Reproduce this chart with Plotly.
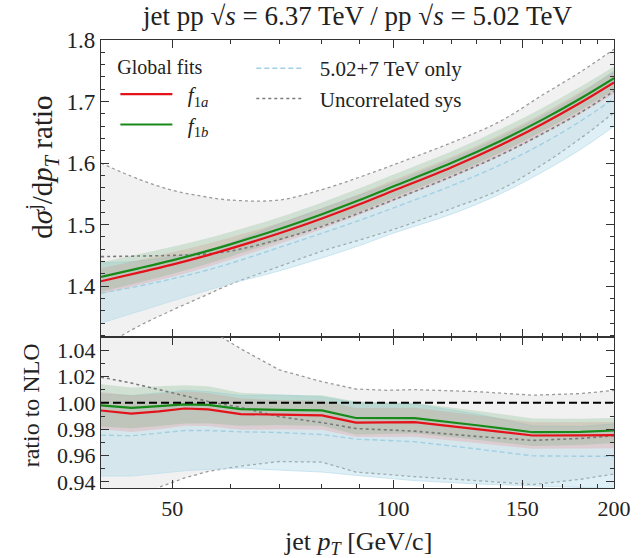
import plotly.graph_objects as go
from plotly.subplots import make_subplots

# ---------------- data ----------------
# upper panel: cross-section ratio
pt_top = [40, 45, 50, 55, 60, 70, 80, 90, 100, 120, 140, 160, 180, 200]
top_f1a = [1.408, 1.422, 1.435, 1.448, 1.461, 1.486, 1.510, 1.533, 1.555, 1.593, 1.629, 1.664, 1.698, 1.731]
top_f1a_hi = [1.429, 1.442, 1.455, 1.467, 1.479, 1.503, 1.527, 1.550, 1.572, 1.610, 1.646, 1.681, 1.716, 1.749]
top_f1a_lo = [1.387, 1.402, 1.415, 1.429, 1.443, 1.469, 1.493, 1.516, 1.538, 1.576, 1.612, 1.647, 1.680, 1.713]
top_f1b = [1.415, 1.429, 1.442, 1.455, 1.468, 1.493, 1.517, 1.540, 1.562, 1.600, 1.636, 1.671, 1.705, 1.738]
top_f1b_hi = [1.439, 1.452, 1.464, 1.476, 1.488, 1.512, 1.536, 1.559, 1.581, 1.619, 1.655, 1.690, 1.724, 1.757]
top_f1b_lo = [1.391, 1.406, 1.420, 1.434, 1.448, 1.474, 1.498, 1.521, 1.543, 1.581, 1.617, 1.652, 1.686, 1.719]
top_unc = [1.448, 1.449, 1.450, 1.452, 1.457, 1.476, 1.497, 1.519, 1.540, 1.578, 1.613, 1.648, 1.682, 1.717]
top_unc_hi = [1.600, 1.574, 1.556, 1.546, 1.540, 1.540, 1.557, 1.577, 1.597, 1.633, 1.668, 1.711, 1.748, 1.785]
top_unc_lo = [1.300, 1.335, 1.361, 1.383, 1.403, 1.432, 1.457, 1.475, 1.492, 1.526, 1.557, 1.598, 1.640, 1.682]
top_only = [1.389, 1.400, 1.412, 1.424, 1.437, 1.463, 1.486, 1.507, 1.527, 1.563, 1.597, 1.632, 1.668, 1.705]
top_only_hi = [1.438, 1.441, 1.448, 1.457, 1.470, 1.501, 1.526, 1.548, 1.568, 1.606, 1.642, 1.677, 1.712, 1.750]
top_only_lo = [1.340, 1.359, 1.376, 1.391, 1.404, 1.425, 1.446, 1.466, 1.486, 1.517, 1.550, 1.586, 1.622, 1.660]

# lower panel: ratio to NLO
pt_nlo = [40, 44, 48, 52, 56, 62, 70, 80, 89, 98, 107, 130, 155, 180, 200]
nlo_f1a = [0.9942, 0.9918, 0.9935, 0.9957, 0.9950, 0.9915, 0.9910, 0.9905, 0.9850, 0.9852, 0.9853, 0.9800, 0.9752, 0.9753, 0.9755]
nlo_f1a_hi = [1.0082, 1.0058, 1.0070, 1.0087, 1.0075, 1.0035, 1.0020, 1.0015, 0.9960, 0.9962, 0.9963, 0.9905, 0.9852, 0.9853, 0.9855]
nlo_f1a_lo = [0.9802, 0.9778, 0.9800, 0.9827, 0.9825, 0.9795, 0.9800, 0.9795, 0.9740, 0.9742, 0.9743, 0.9695, 0.9652, 0.9653, 0.9655]
nlo_f1b = [0.9980, 0.9962, 0.9975, 0.9988, 0.9985, 0.9952, 0.9947, 0.9942, 0.9885, 0.9885, 0.9884, 0.9830, 0.9777, 0.9780, 0.9790]
nlo_f1b_hi = [1.0140, 1.0117, 1.0125, 1.0133, 1.0125, 1.0077, 1.0062, 1.0057, 1.0010, 1.0005, 0.9999, 0.9940, 0.9882, 0.9880, 0.9885]
nlo_f1b_lo = [0.9820, 0.9807, 0.9825, 0.9843, 0.9845, 0.9827, 0.9832, 0.9827, 0.9760, 0.9765, 0.9769, 0.9720, 0.9672, 0.9680, 0.9695]
nlo_unc = [1.0195, 1.0150, 1.0100, 1.0056, 1.0010, 0.9965, 0.9895, 0.9850, 0.9805, 0.9795, 0.9785, 0.9745, 0.9715, 0.9730, 0.9750]
nlo_unc_hi = [1.125, 1.105, 1.088, 1.073, 1.056, 1.041, 1.025, 1.016, 1.0105, 1.0095, 1.0100, 1.0085, 1.0058, 1.0070, 1.0094]
nlo_unc_lo = [0.905, 0.922, 0.936, 0.943, 0.948, 0.952, 0.9555, 0.955, 0.9475, 0.9455, 0.944, 0.941, 0.938, 0.942, 0.946]
nlo_only = [0.9755, 0.9750, 0.9770, 0.9790, 0.9790, 0.9780, 0.9775, 0.9760, 0.9725, 0.9715, 0.9705, 0.9650, 0.9598, 0.9595, 0.9595]
nlo_only_hi = [1.0065, 1.0055, 1.0075, 1.0095, 1.0085, 1.0055, 1.0060, 1.0045, 1.0000, 0.9995, 0.9990, 0.9915, 0.9825, 0.9820, 0.9840]
nlo_only_lo = [0.9445, 0.9445, 0.9465, 0.9485, 0.9495, 0.9505, 0.9490, 0.9475, 0.9450, 0.9430, 0.9410, 0.9385, 0.9370, 0.9360, 0.9350]

x_major = [50, 100, 150, 200]
x_minor = [60, 70, 80, 90, 110, 120, 130, 140, 160, 170, 180, 190]
top_ticks = [1.4, 1.5, 1.6, 1.7, 1.8]
nlo_ticks = [0.94, 0.96, 0.98, 1.00, 1.02, 1.04]

SERIF = "Liberation Serif, Times New Roman, serif"
RED = "#e3121b"
GREEN = "#178a1a"
BLUE = "#9fd0e4"
DOT = "#7a7a7a"
NB = "\u00a0\u00a0"

fig = make_subplots(rows=2, cols=1, shared_xaxes=True, vertical_spacing=0,
                    row_heights=[0.6636, 0.3364])


def band(x, lo, hi, fill, row, shape, edge=None, dash="solid", width=0.0):
    line = dict(width=width, color=edge or "rgba(0,0,0,0)", dash=dash, shape=shape)
    fig.add_trace(go.Scatter(x=x, y=lo, mode="lines", line=line, showlegend=False,
                             hoverinfo="skip"), row=row, col=1)
    fig.add_trace(go.Scatter(x=x, y=hi, mode="lines", line=line, fill="tonexty",
                             fillcolor=fill, showlegend=False, hoverinfo="skip"),
                  row=row, col=1)


GRAYF = "rgba(0,0,0,0.055)"
BLUEF = "rgba(165,212,230,0.36)"
REDF = "rgba(235,120,110,0.22)"
GREENF = "rgba(90,170,110,0.22)"

panels = [
    (1, "spline", pt_top, top_f1a, top_f1a_lo, top_f1a_hi, top_f1b, top_f1b_lo, top_f1b_hi,
     top_unc, top_unc_lo, top_unc_hi, top_only, top_only_lo, top_only_hi),
    (2, "linear", pt_nlo, nlo_f1a, nlo_f1a_lo, nlo_f1a_hi, nlo_f1b, nlo_f1b_lo, nlo_f1b_hi,
     nlo_unc, nlo_unc_lo, nlo_unc_hi, nlo_only, nlo_only_lo, nlo_only_hi),
]

for (row, shp, x, a, alo, ahi, b, blo, bhi, u, ulo, uhi, o, olo, ohi) in panels:
    first = row == 1
    band(x, ulo, uhi, GRAYF, row, shp, edge="#9a9a9a", dash="dot", width=1.3)
    band(x, olo, ohi, BLUEF, row, shp, edge="#bfe0ec", width=0.8)
    band(x, alo, ahi, REDF, row, shp)
    band(x, blo, bhi, GREENF, row, shp)
    fig.add_trace(go.Scatter(x=x, y=u, mode="lines", name=NB + "Uncorrelated sys",
                             line=dict(color=DOT, width=1.6, dash="dot", shape=shp),
                             legend="legend2", legendrank=2, showlegend=first),
                  row=row, col=1)
    fig.add_trace(go.Scatter(x=x, y=o, mode="lines", name=NB + "5.02+7 TeV only",
                             line=dict(color=BLUE, width=1.4, dash="5px,3px", shape=shp),
                             legend="legend2", legendrank=1, showlegend=first),
                  row=row, col=1)
    fig.add_trace(go.Scatter(x=x, y=a, mode="lines",
                             name=NB + "<i>f</i><sub>1<i>a</i></sub>",
                             line=dict(color=RED, width=2.2, shape=shp),
                             legend="legend", legendrank=1, showlegend=first),
                  row=row, col=1)
    fig.add_trace(go.Scatter(x=x, y=b, mode="lines",
                             name=NB + "<i>f</i><sub>1<i>b</i></sub>",
                             line=dict(color=GREEN, width=2.2, shape=shp),
                             legend="legend", legendrank=2, showlegend=first),
                  row=row, col=1)

fig.add_hline(y=1.0, line=dict(color="black", width=2, dash="8px,4px"), row=2, col=1)

axis_common = dict(showline=True, linecolor="#333333", linewidth=1.3, mirror="allticks",
                   ticks="inside", tickcolor="#333333", showgrid=False, zeroline=False)

xcommon = dict(type="log", range=[1.60206, 2.30103], tickvals=x_major,
               ticktext=[str(v) for v in x_major], ticklen=8,
               minor=dict(tickvals=x_minor, ticks="inside", ticklen=4, tickcolor="#333333"),
               **axis_common)
fig.update_xaxes(showticklabels=False, row=1, col=1, **xcommon)
fig.update_xaxes(showticklabels=True, row=2, col=1,
                 tickfont=dict(family=SERIF, size=22, color="#222"), **xcommon)

fig.update_yaxes(range=[1.317, 1.8], tickvals=top_ticks, ticktext=[f"{v:.1f}" for v in top_ticks],
                 ticklen=8, tickfont=dict(family=SERIF, size=23, color="#222"),
                 minor=dict(dtick=0.02, tick0=1.4, ticks="inside", ticklen=4, tickcolor="#333333"),
                 row=1, col=1, **axis_common)
fig.update_yaxes(range=[0.9354, 1.0497], tickvals=nlo_ticks, ticktext=[f"{v:.2f}" for v in nlo_ticks],
                 ticklen=8, tickfont=dict(family=SERIF, size=22, color="#222"),
                 minor=dict(dtick=0.01, tick0=0.94, ticks="inside", ticklen=4, tickcolor="#333333"),
                 row=2, col=1, **axis_common)

fig.update_layout(
    width=643, height=558,
    margin=dict(l=101, r=18, t=40, b=70),
    paper_bgcolor="white", plot_bgcolor="white",
    font=dict(family=SERIF, color="#222"),
    title=dict(text="jet pp √<i>s</i> = 6.37 TeV / pp √<i>s</i> = 5.02 TeV",
               x=0.5, xref="paper", xanchor="center", y=0.972, yref="container",
               yanchor="middle", font=dict(family=SERIF, size=27, color="#222")),
    legend=dict(x=0.028, y=0.982, xanchor="left", yanchor="top", bgcolor="rgba(0,0,0,0)",
                title=dict(text="Global fits", font=dict(size=20, family=SERIF)),
                font=dict(size=21, family=SERIF), itemwidth=52, traceorder="normal",
                tracegroupgap=0),
    legend2=dict(x=0.293, y=0.982, xanchor="left", yanchor="top", bgcolor="rgba(0,0,0,0)",
                 font=dict(size=21, family=SERIF), itemwidth=48, traceorder="normal",
                 tracegroupgap=0),
    annotations=[
        dict(text="d<i>σ</i><sup>j</sup>/d<i>p</i><sub><i>T</i></sub> ratio", textangle=-90,
             xref="paper", yref="paper", x=-0.115, y=0.715, showarrow=False,
             xanchor="center", yanchor="middle", font=dict(size=29, family=SERIF, color="#222")),
        dict(text="ratio to NLO", textangle=-90,
             xref="paper", yref="paper", x=-0.136, y=0.185, showarrow=False,
             xanchor="center", yanchor="middle", font=dict(size=24, family=SERIF, color="#222")),
        dict(text="jet <i>p</i><sub><i>T</i></sub> [GeV/c]",
             xref="paper", yref="paper", x=0.5, y=-0.123, showarrow=False,
             xanchor="center", yanchor="middle", font=dict(size=26, family=SERIF, color="#222")),
    ],
)

fig.write_html("out.html")
